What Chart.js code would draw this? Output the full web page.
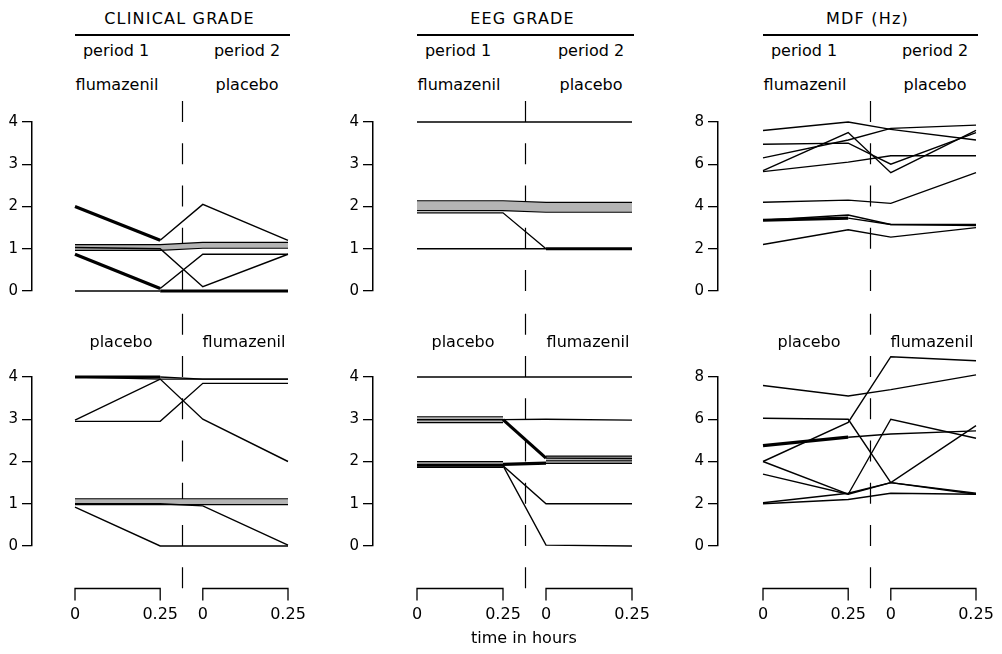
<!DOCTYPE html>
<html>
<head>
<meta charset="utf-8">
<title>Clinical grade, EEG grade and MDF</title>
<script src="https://cdn.jsdelivr.net/npm/chart.js"></script>
<style>
  body { margin: 0; background: #fff; }
  #fig { position: relative; width: 1002px; height: 654px; background: #fff; overflow: hidden;
         font-family: 'DejaVu Sans', sans-serif; color: #000; }
  .box { position: absolute; }
  .lbl { position: absolute; font-size: 16px; line-height: 16px; white-space: nowrap; transform: translateX(-50%); }
  .head { letter-spacing: 1.2px; }
  .rule { position: absolute; height: 2px; background: #000; }
</style>
</head>
<body>
<div id="fig"></div>
<script>
// time points: two periods, each measured at 0 and 0.25 h
const timeLabels = ['0', '0.25', '0', '0.25'];
const timePos = [0, 0.25, 0.375, 0.625]; // period 2 drawn after a gap
const titles = ['CLINICAL GRADE', 'EEG GRADE', 'MDF (Hz)'];
const periodNames = ['period 1', 'period 2'];
const topTreat = ['flumazenil', 'placebo'];
const bottomTreat = ['placebo', 'flumazenil'];
const gradeTicks = [0, 1, 2, 3, 4];
const mdfTicks = [0, 2, 4, 6, 8];

// CLINICAL GRADE - flumazenil first
const clinTop = [
  [2, 1.2, 2.05, 1.2],
  [0.87, 0.06, 0.87, 0.87],
  [1.03, 1.0, 0.1, 0.87],
  [0, 0, 0, 0]
];
const clinTopBands = [[1.03, 1.03, 1.08, 1.08]];
// CLINICAL GRADE - placebo first
const clinBottom = [
  [4, 4, 3.95, 3.95],
  [4, 3.95, 3.0, 2.0],
  [2.98, 3.95, 3.95, 3.95],
  [2.95, 2.95, 3.85, 3.85],
  [0.92, 0, 0, 0],
  [1.0, 1.0, 0.95, 0.02]
];
const clinBottomBands = [[1.05, 1.05, 1.05, 1.05]];

// EEG GRADE
const eegTop = [
  [4, 4, 4, 4],
  [1.85, 1.85, 1.0, 1.0],
  [1, 1, 1, 1]
];
const eegTopBands = [[2.02, 2.02, 1.98, 1.98]];
const eegBottom = [
  [4, 4, 4, 4],
  [2.99, 2.99, 3.0, 2.98],
  [2.99, 2.99, 2.08, 2.07],
  [1.93, 1.93, 1.96, 1.96],
  [1.9, 1.9, 1.0, 1.0],
  [1.9, 1.9, 0.02, 0]
];
const eegBottomBands = [[2.99, 2.99, null, null], [1.93, 1.93, null, null], [null, null, 2.07, 2.07]];

// MDF (Hz)
const mdfTop = [
  [7.6, 8.0, 7.65, 7.15],
  [6.3, 7.15, 7.7, 7.85],
  [6.95, 7.0, 6.0, 7.5],
  [5.7, 7.5, 5.6, 7.6],
  [5.65, 6.1, 6.4, 6.4],
  [4.2, 4.3, 4.15, 5.6],
  [3.35, 3.45, 3.15, 3.1],
  [3.35, 3.6, 3.15, 3.15],
  [2.2, 2.9, 2.55, 3.0]
];
const mdfBottom = [
  [7.6, 7.1, 7.4, 8.1],
  [6.05, 6.0, 3.0, 2.45],
  [4.0, 5.85, 8.96, 8.77],
  [4.75, 5.15, 5.3, 5.45],
  [4.0, 2.45, 6.0, 5.1],
  [3.4, 2.45, 3.0, 5.7],
  [2.05, 2.5, 3.0, 2.5],
  [2.0, 2.2, 2.5, 2.45]
];

// styling: heavier segments [series, segment] and band widths
const clinTopHeavy = [[0, 0], [1, 0], [3, 1], [3, 2]];
const clinBottomHeavy = [[0, 0]];
const eegTopHeavy = [[1, 2]];
const eegBottomHeavy = [[2, 1], [3, 1]];
const mdfTopHeavy = [[6, 0]];
const mdfBottomHeavy = [[3, 0]];

// layout
const cols = [
  { axisX: 32, x0: 75, x3: 288 },
  { axisX: 373, x0: 417, x3: 632 },
  { axisX: 718, x0: 763, x3: 976 }
];
const rows = [
  { top: 95, height: 210, plotTop: 122, plotBottom: 291, extra: 0 },
  { top: 305, height: 325, plotTop: 377, plotBottom: 546, extra: 1 }
];
const AXIS_W = 34;
const RIGHT_ROOM = 22; // space for the last time label

Chart.defaults.font.family = "'DejaVu Sans', sans-serif";
Chart.defaults.color = '#000';

const panels = [
  { col: 0, row: 0, lines: clinTop, heavy: clinTopHeavy, bands: clinTopBands, bandW: [7], ticks: gradeTicks },
  { col: 0, row: 1, lines: clinBottom, heavy: clinBottomHeavy, bands: clinBottomBands, bandW: [7], ticks: gradeTicks },
  { col: 1, row: 0, lines: eegTop, heavy: eegTopHeavy, bands: eegTopBands, bandW: [11], ticks: gradeTicks },
  { col: 1, row: 1, lines: eegBottom, heavy: eegBottomHeavy, bands: eegBottomBands, bandW: [7, 7, 6], ticks: gradeTicks },
  { col: 2, row: 0, lines: mdfTop, heavy: mdfTopHeavy, bands: [], bandW: [], ticks: mdfTicks },
  { col: 2, row: 1, lines: mdfBottom, heavy: mdfBottomHeavy, bands: [], bandW: [], ticks: mdfTicks }
];

// dashed separator between periods, and the time brackets under the lower panels
const deco = {
  id: 'deco',
  beforeDatasetsDraw(chart, args, o) {
    const { ctx } = chart;
    const x = chart.scales.x, y = chart.scales.y;
    const t = o.ticks;
    const y0 = y.getPixelForValue(t[0]);
    const step = (y0 - y.getPixelForValue(t[t.length - 1])) / (t.length - 1);
    const xm = Math.round(x.getPixelForValue((timePos[1] + timePos[2]) / 2)) + 0.5;
    ctx.save();
    ctx.strokeStyle = '#000';
    ctx.lineWidth = 1.2;
    ctx.beginPath();
    for (let k = -o.extra; k < t.length + o.extra; k++) {
      const end = y0 - k * step;
      ctx.moveTo(xm, end - step / 2);
      ctx.lineTo(xm, end);
    }
    ctx.stroke();
    if (o.extra) {
      const yb = Math.round(y0 + step) + 0.5;
      ctx.lineWidth = 1.3;
      ctx.font = "16px 'DejaVu Sans', sans-serif";
      ctx.fillStyle = '#000';
      ctx.textAlign = 'center';
      ctx.textBaseline = 'alphabetic';
      for (let p = 0; p < 2; p++) {
        const a = x.getPixelForValue(timePos[2 * p]);
        const b = x.getPixelForValue(timePos[2 * p + 1]);
        ctx.beginPath();
        ctx.moveTo(a, yb + 12);
        ctx.lineTo(a, yb);
        ctx.lineTo(b, yb);
        ctx.lineTo(b, yb + 12);
        ctx.stroke();
        ctx.fillText(timeLabels[2 * p], a, yb + 30);
        ctx.fillText(timeLabels[2 * p + 1], b, yb + 30);
      }
    }
    ctx.restore();
  }
};

const fig = document.getElementById('fig');

function toPoints(vals) {
  return vals.map((v, i) => ({ x: timePos[i], y: v }));
}

panels.forEach(p => {
  const c = cols[p.col], r = rows[p.row];
  const ppu = (c.x3 - c.x0) / timePos[3];
  const left = c.axisX - AXIS_W;
  const right = c.x3 + 6 + RIGHT_ROOM;
  const box = document.createElement('div');
  box.className = 'box';
  box.style.left = left + 'px';
  box.style.top = r.top + 'px';
  box.style.width = (right - left) + 'px';
  box.style.height = r.height + 'px';
  const cv = document.createElement('canvas');
  box.appendChild(cv);
  fig.appendChild(box);

  const heavy = new Set(p.heavy.map(h => h[0] + ':' + h[1]));
  const datasets = [];
  p.lines.forEach((vals, si) => {
    datasets.push({
      data: toPoints(vals),
      borderColor: '#000',
      borderWidth: 1.4,
      order: 0,
      segment: { borderWidth: ctx => heavy.has(si + ':' + ctx.p0DataIndex) ? 3.2 : 1.4 }
    });
  });
  p.bands.forEach((vals, bi) => {
    datasets.push({ data: toPoints(vals), borderColor: '#000', borderWidth: p.bandW[bi], order: 2 });
    datasets.push({ data: toPoints(vals), borderColor: '#b4b4b4', borderWidth: p.bandW[bi] - 2.4, order: 1 });
  });

  const ymax = p.ticks[p.ticks.length - 1];
  new Chart(cv, {
    type: 'line',
    data: { datasets },
    plugins: [deco],
    options: {
      responsive: true,
      maintainAspectRatio: false,
      animation: false,
      events: [],
      layout: { padding: { left: 0, right: RIGHT_ROOM, top: r.plotTop - r.top, bottom: r.top + r.height - r.plotBottom } },
      elements: {
        point: { radius: 0 },
        line: { tension: 0, fill: false, borderCapStyle: 'butt', borderJoinStyle: 'miter' }
      },
      datasets: { line: { clip: false, spanGaps: false } },
      scales: {
        x: {
          type: 'linear',
          display: false,
          min: -(c.x0 - c.axisX) / ppu,
          max: timePos[3] + 6 / ppu
        },
        y: {
          min: p.ticks[0],
          max: ymax,
          afterFit: s => { s.width = AXIS_W; },
          afterBuildTicks: s => { s.ticks = p.ticks.map(v => ({ value: v })); },
          border: { display: true, color: '#000', width: 1.5 },
          grid: { display: true, drawOnChartArea: false, drawTicks: true, tickLength: 10, color: '#000', lineWidth: 1.3 },
          ticks: { font: { size: 15 }, padding: 4, color: '#000' }
        }
      },
      plugins: {
        legend: { display: false },
        tooltip: { enabled: false },
        deco: { ticks: p.ticks, extra: r.extra }
      }
    }
  });
});

// text: titles, periods, treatments
function label(text, cx, top, cls) {
  const d = document.createElement('div');
  d.className = 'lbl' + (cls ? ' ' + cls : '');
  d.textContent = text;
  d.style.left = cx + 'px';
  d.style.top = top + 'px';
  fig.appendChild(d);
}

cols.forEach((c, i) => {
  label(titles[i], (c.x0 + c.x3) / 2 - 2, 11, 'head');
  const rule = document.createElement('div');
  rule.className = 'rule';
  rule.style.left = c.x0 + 'px';
  rule.style.width = (c.x3 - c.x0 + 2) + 'px';
  rule.style.top = '34px';
  fig.appendChild(rule);
  label(periodNames[0], c.x0 + 41, 43);
  label(periodNames[1], c.x3 - 41, 43);
  label(topTreat[0], c.x0 + 42, 77);
  label(topTreat[1], c.x3 - 41, 77);
  label(bottomTreat[0], c.x0 + 46, 334);
  label(bottomTreat[1], c.x3 - 44, 334);
});
label('time in hours', 524, 630);
</script>
</body>
</html>
